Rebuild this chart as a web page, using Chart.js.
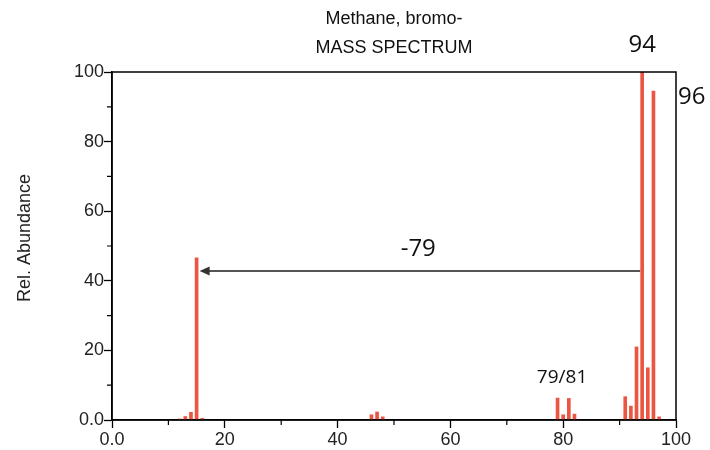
<!DOCTYPE html>
<html>
<head>
<meta charset="utf-8">
<script src="https://cdn.jsdelivr.net/npm/chart.js@4.4.1/dist/chart.umd.min.js"></script>
<style>
  html, body { margin: 0; padding: 0; background: #fff; }
  #wrap { width: 710px; height: 450px; }
</style>
</head>
<body>
<div id="wrap"><canvas id="spec" width="710" height="450"></canvas></div>
<script>
"use strict";

// m/z of each peak and its relative abundance (%)
const MZ = [12, 13, 14, 15, 16, 46, 47, 48, 79, 80, 81, 82, 91, 92, 93, 94, 95, 96, 97];
const ABUNDANCE = [0.3, 1.0, 2.2, 46.6, 0.5, 1.5, 2.3, 0.9, 6.3, 1.5, 6.2, 1.7, 6.7, 4.0, 21.0, 100, 15.0, 94.5, 0.9];

const X_TICKS = [0, 20, 40, 60, 80, 100];
const X_TICK_LABELS = ["0.0", "20", "40", "60", "80", "100"];
const Y_TICKS = [0, 20, 40, 60, 80, 100];
const Y_TICK_LABELS = ["0.0", "20", "40", "60", "80", "100"];

const TITLE_LINES = ["Methane, bromo-", "MASS SPECTRUM"];
const Y_TITLE = "Rel. Abundance";
const PEAK_LABELS = ["94", "96", "79/81"];
const LOSS_LABEL = "-79";

const RED = "#ea5641";
const AXIS_FONT = "Liberation Sans, Arial, sans-serif";
const NOTE_FONT = "Open Sans, DejaVu Sans, sans-serif";

// where the annotations sit, in data units
const NOTES = [
  { text: PEAK_LABELS[0], x: 94, y: 107.6, align: "center", size: 24 },
  { text: PEAK_LABELS[1], x: 100.35, y: 92.8, align: "left", size: 24 },
  { text: PEAK_LABELS[2], x: 79.8, y: 12.2, align: "center", size: 19 },
  { text: LOSS_LABEL, x: 54.3, y: 49.2, align: "center", size: 24 },
];
const ARROW = { from: 94, to: 15, y: 42.8 };

function labelFor(ticks, labels) {
  return (v) => {
    const i = ticks.indexOf(v);
    return i >= 0 ? labels[i] : "";
  };
}

function majorColor(ticks) {
  return (c) => (c.tick && ticks.includes(c.tick.value) ? "#000" : "rgba(0,0,0,0)");
}

const specPlugin = {
  id: "specDecor",
  afterDraw(c) {
    const { ctx, chartArea: a, scales } = c;
    const sx = scales.x, sy = scales.y;
    ctx.save();

    // frame
    ctx.strokeStyle = "#000";
    ctx.lineWidth = 1.5;
    ctx.strokeRect(a.left, a.top, a.right - a.left, a.bottom - a.top);

    // minor ticks
    ctx.lineWidth = 1.2;
    ctx.beginPath();
    for (let v = 10; v < 100; v += 20) {
      const px = sx.getPixelForValue(v);
      ctx.moveTo(px, a.bottom);
      ctx.lineTo(px, a.bottom + 5);
      const py = sy.getPixelForValue(v);
      ctx.moveTo(a.left, py);
      ctx.lineTo(a.left - 5, py);
    }
    ctx.stroke();

    // title
    ctx.fillStyle = "#111";
    ctx.textAlign = "center";
    ctx.textBaseline = "middle";
    ctx.font = "18px " + AXIS_FONT;
    const cx = (a.left + a.right) / 2;
    ctx.fillText(TITLE_LINES[0], cx, 19);
    ctx.fillText(TITLE_LINES[1], cx, 48.5);

    // y axis title
    ctx.save();
    ctx.translate(25, 238);
    ctx.rotate(-Math.PI / 2);
    ctx.fillStyle = "#222";
    ctx.fillText(Y_TITLE, 0, 0);
    ctx.restore();

    // arrow for loss of Br
    const x0 = sx.getPixelForValue(ARROW.from) - 2;
    const x1 = sx.getPixelForValue(ARROW.to) + 3;
    const ay = sy.getPixelForValue(ARROW.y);
    ctx.strokeStyle = "#555";
    ctx.fillStyle = "#333";
    ctx.lineWidth = 2;
    ctx.beginPath();
    ctx.moveTo(x0, ay);
    ctx.lineTo(x1 + 8, ay);
    ctx.stroke();
    ctx.beginPath();
    ctx.moveTo(x1, ay);
    ctx.lineTo(x1 + 10, ay - 4.5);
    ctx.lineTo(x1 + 10, ay + 4.5);
    ctx.closePath();
    ctx.fill();

    // peak notes
    ctx.fillStyle = "#111";
    NOTES.forEach((n) => {
      ctx.font = n.size + "px " + NOTE_FONT;
      ctx.textAlign = n.align;
      ctx.fillText(n.text, sx.getPixelForValue(n.x), sy.getPixelForValue(n.y));
    });
    ctx.restore();
  },
};

new Chart(document.getElementById("spec"), {
  type: "bar",
  data: {
    datasets: [{
      data: MZ.map((m, i) => ({ x: m, y: ABUNDANCE[i] })),
      backgroundColor: RED,
      borderWidth: 0,
      barThickness: 3,
    }],
  },
  options: {
    responsive: false,
    animation: false,
    layout: { padding: { top: 72, right: 34, left: 0, bottom: 0 } },
    plugins: { legend: { display: false }, tooltip: { enabled: false }, title: { display: false } },
    scales: {
      x: {
        type: "linear",
        min: 0,
        max: 100,
        offset: false,
        afterFit: (s) => { s.height = 30; },
        grid: { offset: false, drawOnChartArea: false, drawTicks: true, tickLength: 8, tickWidth: 1.3, tickColor: majorColor(X_TICKS) },
        border: { display: true, color: "#000", width: 1.5 },
        ticks: { stepSize: 10, autoSkip: false, maxRotation: 0, padding: 1, color: "#222", font: { family: AXIS_FONT, size: 18 }, callback: labelFor(X_TICKS, X_TICK_LABELS) },
      },
      y: {
        min: 0,
        max: 100,
        afterFit: (s) => { s.width = 112; },
        grid: { drawOnChartArea: false, drawTicks: true, tickLength: 8, tickWidth: 1.3, tickColor: majorColor(Y_TICKS) },
        border: { display: true, color: "#000", width: 1.5 },
        ticks: { stepSize: 10, autoSkip: false, padding: 0, color: "#222", font: { family: AXIS_FONT, size: 18 }, callback: labelFor(Y_TICKS, Y_TICK_LABELS) },
      },
    },
  },
  plugins: [specPlugin],
});
</script>
</body>
</html>
